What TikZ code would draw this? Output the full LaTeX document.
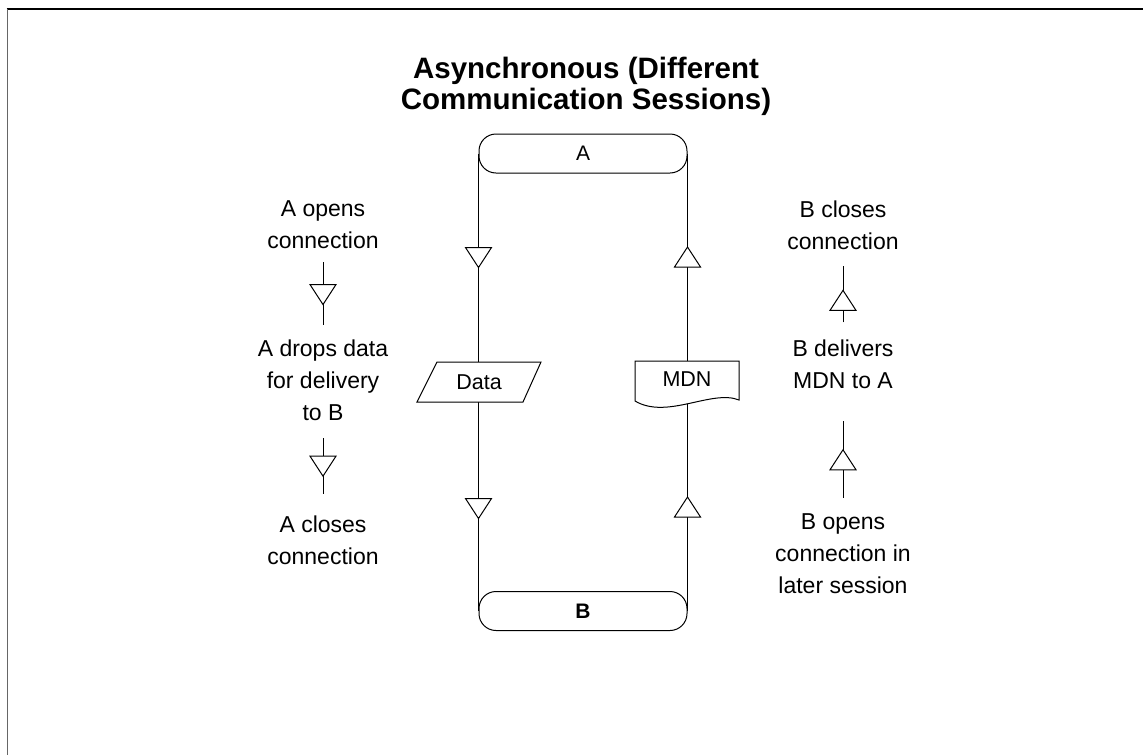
\documentclass[tikz,border=0pt]{standalone}
\usepackage{fontspec}
\setmainfont{Liberation Sans}
\usetikzlibrary{decorations.markings}
\newcommand{\flowtri}{\draw[line width=1pt, fill=white, line join=miter] (-10pt,13pt) -- (-10pt,-13pt) -- (10pt,0pt) -- cycle;}
\tikzset{
  conn/.style={line width=1pt, draw=black},
  term/.style={draw, line width=1pt, fill=white, rounded corners=17pt,
    minimum width=208pt, minimum height=39pt, inner sep=0pt,
    font=\fontsize{21}{24}\selectfont},
  lbl/.style={align=center, inner sep=0pt, font=\fontsize{23}{32}\selectfont},
  shapelbl/.style={inner sep=0pt, font=\fontsize{21.5}{24}\selectfont},
  ttl/.style={align=center, inner sep=0pt, font=\bfseries\fontsize{29.5}{31}\selectfont},
  onetri/.style={postaction={decorate}, decoration={markings, mark=at position #1 with {\flowtri}}},
  twotri/.style 2 args={postaction={decorate}, decoration={markings,
      mark=at position #1 with {\flowtri}, mark=at position #2 with {\flowtri}}},
}
\begin{document}
\begin{tikzpicture}[x=1pt, y=-1pt]
\useasboundingbox (0,0) rectangle (1143,755);
% frame
\draw[black, line width=1.2pt] (6.5,9) -- (1143,9);
\draw[black!60, line width=1.6pt] (7.5,9) -- (7.5,755);

% title
\node[ttl] (title) at (586,86.5) {Asynchronous (Different\\Communication Sessions)};

% terminals
\node[term] (A) at (583,153.5) {A};
\node[term] (B) at (583,611) {\bfseries B};

% main connectors
\draw[conn, twotri={104pt}{355pt}] (A.west) -- (A.west |- B.west);
\draw[conn, twotri={104pt}{354pt}] (B.east) -- (B.east |- A.east);

% data (parallelogram) and MDN (document)
\node[shapelbl] (data) at (479,382) {Data};
\draw[line width=1pt, fill=white] (437,362) -- (541,362) -- (523,402) -- (417,402) -- cycle;
\node[shapelbl] at (data) {Data};

\node[shapelbl] (mdn) at (687,379) {MDN};
\draw[line width=1pt, fill=white] (635,361) -- (739,361) -- (739,400)
  .. controls (712,389) and (667,420) .. (635,401) -- cycle;
\node[shapelbl] at (mdn) {MDN};

% left column
\node[lbl] (L1) at (323,225) {A opens\\connection};
\node[lbl] (L2) at (323,380.5) {A drops data\\for delivery\\to B};
\node[lbl] (L3) at (323,540) {A closes\\connection};
\draw[conn, onetri=0.5, shorten <=13pt, shorten >=15pt] (L1.south) -- (L2.north);
\draw[conn, onetri=45pt, shorten <=17pt, shorten >=21pt] (L2.south) -- (L3.north);

% right column
\node[lbl] (R1) at (843,225) {B closes\\connection};
\node[lbl] (R2) at (843,364) {B delivers\\MDN to A};
\node[lbl] (R3) at (843,554) {B opens\\connection in\\later session};
\draw[conn, onetri=54pt, shorten <=16pt, shorten >=32pt] (R3.north) -- (R2.south);
\draw[conn, onetri=39pt, shorten <=17pt, shorten >=16pt] (R2.north) -- (R1.south);
\end{tikzpicture}
\end{document}
